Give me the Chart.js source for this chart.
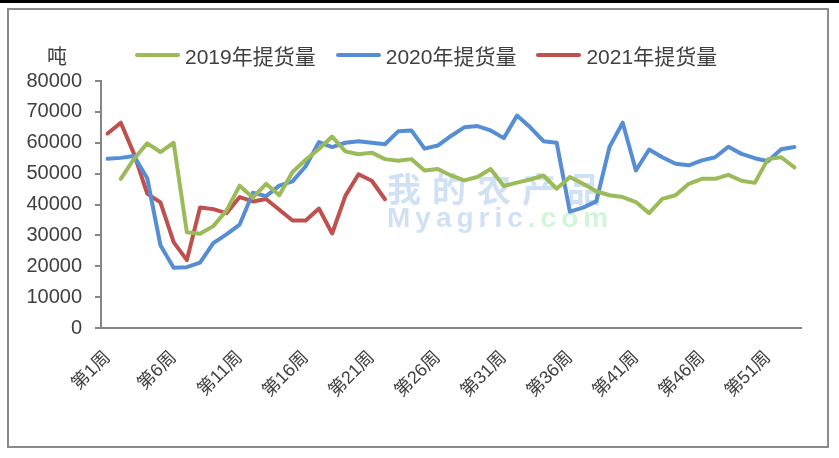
<!DOCTYPE html>
<html>
<head>
<meta charset="utf-8">
<script src="https://cdn.jsdelivr.net/npm/chart.js@4.4.0/dist/chart.umd.min.js"></script>
<style>
  body { margin: 0; background: #fff; }
  #wrap { position: relative; width: 839px; height: 458px; overflow: hidden; font-family: 'Liberation Sans', 'Noto Sans CJK SC', sans-serif; color: #404040; }
  #topbar { position: absolute; left: 0; top: 0; width: 839px; height: 3px; background: #000; }
  #frame { position: absolute; left: 7px; top: 8px; width: 822px; height: 440px; border: 2px solid #8a8a8a; box-sizing: border-box; }
  #unit { position: absolute; left: 47px; top: 41px; font-size: 20px; }
  #legend { position: absolute; left: 135px; top: 40px; display: flex; align-items: center; font-size: 21px; }
  .chart-legend-item { display: flex; align-items: center; margin-right: 20px; }
  #chart { position: absolute; left: 0; top: 0; }
</style>
</head>
<body>
<div id="wrap">
  <div id="topbar"></div>
  <div id="frame"></div>
  <canvas id="chart" width="839" height="458"></canvas>
  <div id="unit">吨</div>
  <div id="legend"></div>
</div>
<script>
const weeks = ['第1周', '第2周', '第3周', '第4周', '第5周', '第6周', '第7周', '第8周', '第9周', '第10周',
  '第11周', '第12周', '第13周', '第14周', '第15周', '第16周', '第17周', '第18周', '第19周', '第20周',
  '第21周', '第22周', '第23周', '第24周', '第25周', '第26周', '第27周', '第28周', '第29周', '第30周',
  '第31周', '第32周', '第33周', '第34周', '第35周', '第36周', '第37周', '第38周', '第39周', '第40周',
  '第41周', '第42周', '第43周', '第44周', '第45周', '第46周', '第47周', '第48周', '第49周', '第50周',
  '第51周', '第52周', '第53周'];
const tickLabels = ['第1周', '第6周', '第11周', '第16周', '第21周', '第26周', '第31周', '第36周', '第41周', '第46周', '第51周'];

const seriesNames = ['2019年提货量', '2020年提货量', '2021年提货量'];
const seriesColors = ['#9BBB59', '#558ED5', '#C0504D'];

const pickup2019 = [null, 48300, 54800, 59800, 57000, 60000, 31000, 30500, 33000, 38000,
  46100, 42200, 46700, 43000, 50500, 54500, 58000, 62000, 57200, 56300,
  56800, 54700, 54200, 54700, 51000, 51500, 49400, 47800, 48900, 51500,
  46000, 47100, 48100, 49400, 45100, 48900, 46700, 44300, 43000, 42400,
  40800, 37200, 41800, 43000, 46700, 48300, 48300, 49600, 47700, 47000,
  54700, 55300, 52000];
const pickup2020 = [54800, 55100, 55700, 48500, 26800, 19500, 19700, 21200, 27500, 30300,
  33500, 43800, 42700, 46100, 47500, 52400, 60200, 58600, 60000, 60500,
  60000, 59500, 63700, 64000, 58100, 59100, 62200, 65000, 65400, 64000,
  61500, 68800, 65000, 60500, 60000, 37700, 39000, 41000, 58600, 66500,
  51000, 57800, 55300, 53200, 52700, 54300, 55300, 58700, 56400, 55000,
  54000, 57900, 58600];
const pickup2021 = [63000, 66500, 56400, 43500, 40700, 27800, 22000, 39000, 38500, 37200,
  42400, 41000, 41800, 38300, 34800, 34800, 38700, 30600, 42800, 49800,
  47700, 41700];

const yMin = 0;
const yMax = 80000;
const yStep = 10000;

const axisColor = '#868686';
const textColor = '#404040';
Chart.defaults.font.family = "'Liberation Sans', 'Noto Sans CJK SC', sans-serif";
Chart.defaults.color = textColor;

// faint site watermark behind the lines
const watermark = {
  id: 'watermark',
  beforeDatasetsDraw(chart) {
    const ctx = chart.ctx;
    ctx.save();
    ctx.letterSpacing = '11px';
    ctx.font = "bold 34px 'Noto Sans CJK SC'";
    ctx.fillStyle = 'rgba(190, 212, 240, 0.7)';
    ctx.fillText('我的农产品', 387, 202);
    ctx.letterSpacing = '5px';
    ctx.font = "bold 28px 'Liberation Sans'";
    ctx.fillText('Myagric', 387, 227);
    const w = ctx.measureText('Myagric').width;
    ctx.fillStyle = 'rgba(200, 245, 210, 0.85)';
    ctx.fillText('.com', 387 + w, 227);
    ctx.restore();
  }
};

function renderChart() {
  const data = {
    labels: weeks,
    datasets: [pickup2019, pickup2020, pickup2021].map((values, i) => ({
      label: seriesNames[i],
      data: values,
      borderColor: seriesColors[i],
      backgroundColor: seriesColors[i],
      borderWidth: 4,
      pointRadius: 0,
      tension: 0,
      borderJoinStyle: 'round',
      borderCapStyle: 'round',
      spanGaps: false
    }))
  };

  new Chart(document.getElementById('chart'), {
    type: 'line',
    data: data,
    options: {
      responsive: false,
      devicePixelRatio: 1,
      animation: false,
      layout: { padding: { left: 0, right: 38, top: 81, bottom: 0 } },
      plugins: {
        legend: { display: false },
        tooltip: { enabled: false }
      },
      scales: {
        x: {
          offset: true,
          grid: { drawOnChartArea: false, drawTicks: false },
          border: { color: axisColor, width: 2 },
          ticks: {
            autoSkip: false,
            minRotation: 45,
            maxRotation: 45,
            padding: 19,
            color: textColor,
            font: { size: 18 },
            callback: function (value, index) {
              const label = weeks[index];
              return tickLabels.includes(label) ? label : '';
            }
          },
          afterFit: function (scale) { scale.height = 130; }
        },
        y: {
          min: yMin,
          max: yMax,
          grid: { drawOnChartArea: false, drawTicks: true, tickLength: 6, color: axisColor, lineWidth: 2 },
          border: { color: axisColor, width: 2 },
          ticks: {
            stepSize: yStep,
            padding: 13,
            color: textColor,
            font: { size: 20 },
            callback: v => v
          },
          afterFit: function (scale) { scale.width = 101; }
        }
      }
    },
    plugins: [watermark]
  });
}

function renderLegend() {
  const legendContainer = document.getElementById('legend');
  legendContainer.innerHTML = '';
  seriesNames.forEach((name, index) => {
    const legendItem = document.createElement('div');
    legendItem.classList.add('chart-legend-item');

    const colorBox = document.createElement('span');
    colorBox.style.display = 'inline-block';
    colorBox.style.width = '45px';
    colorBox.style.height = '4px';
    colorBox.style.borderRadius = '2px';
    colorBox.style.backgroundColor = seriesColors[index];
    colorBox.style.marginRight = '5px';

    const labelText = document.createElement('span');
    labelText.textContent = name;

    legendItem.appendChild(colorBox);
    legendItem.appendChild(labelText);
    legendContainer.appendChild(legendItem);
  });
}

renderChart();
renderLegend();
</script>
</body>
</html>
